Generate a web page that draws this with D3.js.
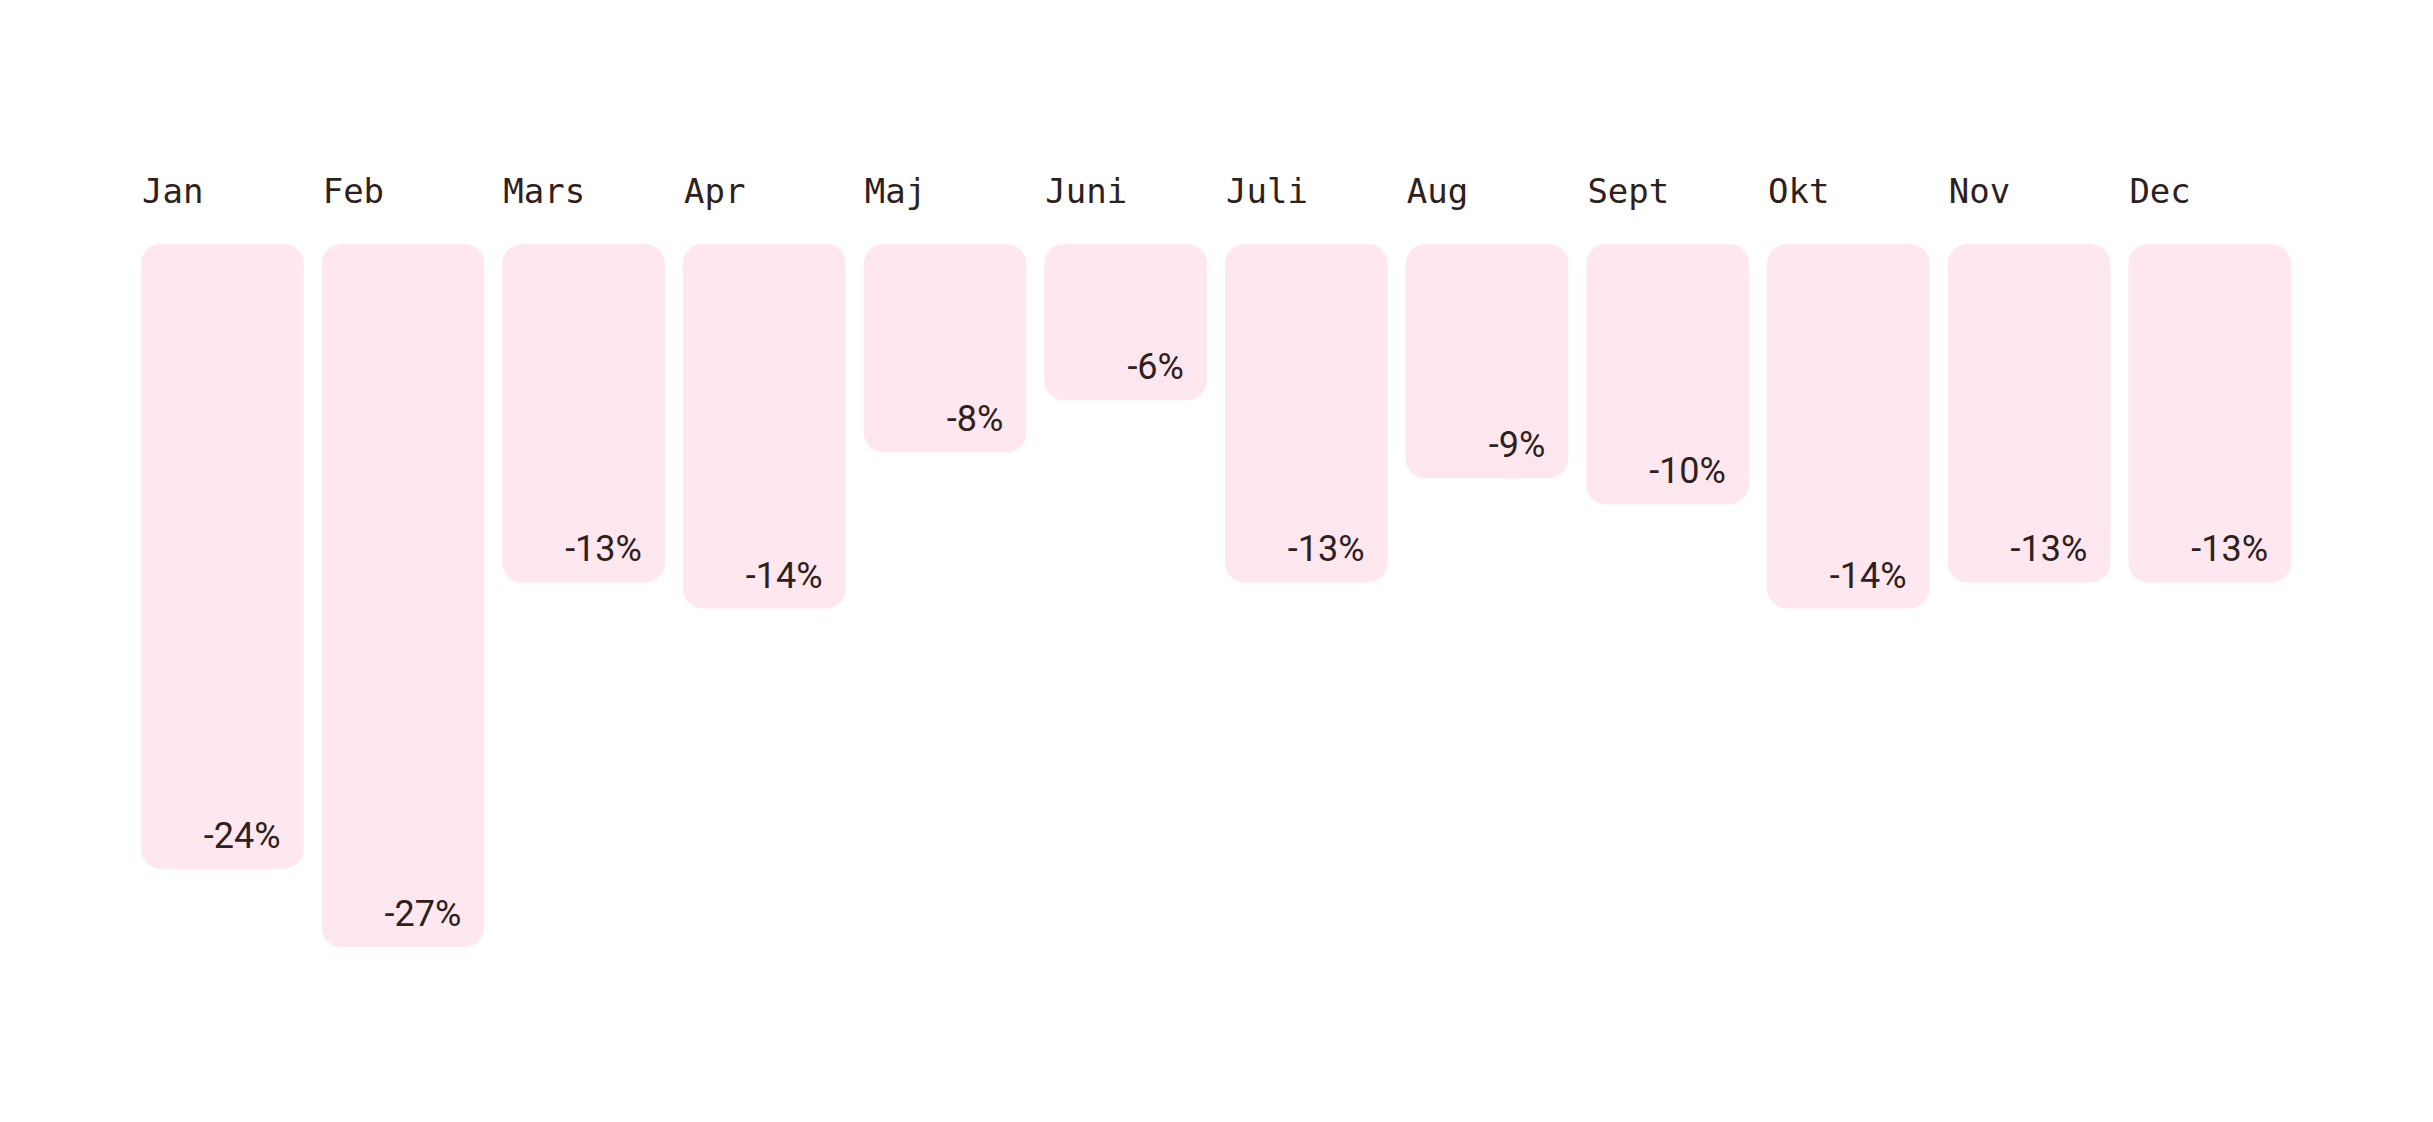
<!DOCTYPE html>
<html>
<head>
<meta charset="utf-8">
<script src="https://cdn.jsdelivr.net/npm/d3@7"></script>
<style>
  html, body { margin: 0; padding: 0; background: #ffffff; }
  svg { display: block; }
</style>
</head>
<body>
<svg id="chart"></svg>
<script>
// months and the monthly change (percent)
const months = ["Jan", "Feb", "Mars", "Apr", "Maj", "Juni", "Juli", "Aug", "Sept", "Okt", "Nov", "Dec"];
const values = [-24, -27, -13, -14, -8, -6, -13, -9, -10, -14, -13, -13];

const W = 2433, H = 1122;
const barFill = "#fee7ef";
const textColor = "#2e211d";

const svg = d3.select("#chart").attr("width", W).attr("height", H);

let x = d3.scaleBand()
  .domain(months)
  .range([141, 2291])
  .paddingInner(0.1);

let y = d3.scaleLinear()
  .domain([0, -27])
  .range([244, 947]);

// month labels above each bar
svg.append("g")
  .selectAll("text")
  .data(months)
  .join("text")
  .attr("x", d => x(d) + 1)
  .attr("y", 203)
  .attr("fill", textColor)
  .attr("font-family", "'DejaVu Sans Mono', monospace")
  .attr("font-size", 34)
  .text(d => d);

const rows = months.map((m, i) => ({ month: m, value: values[i] }));

// bars hang down from the top line
svg.append("g")
  .selectAll("rect")
  .data(rows)
  .join("rect")
  .attr("x", d => x(d.month))
  .attr("y", y(0))
  .attr("width", x.bandwidth())
  .attr("height", d => y(d.value) - y(0))
  .attr("rx", 20)
  .attr("fill", barFill);

// value labels in the lower right corner
svg.append("g")
  .selectAll("text")
  .data(rows)
  .join("text")
  .attr("x", d => x(d.month) + x.bandwidth() - 23)
  .attr("y", d => y(d.value) - 21)
  .attr("text-anchor", "end")
  .attr("fill", textColor)
  .attr("font-family", "Roboto, 'Noto Sans', sans-serif")
  .attr("font-size", 36)
  .text(d => d.value + "%");
</script>
</body>
</html>
